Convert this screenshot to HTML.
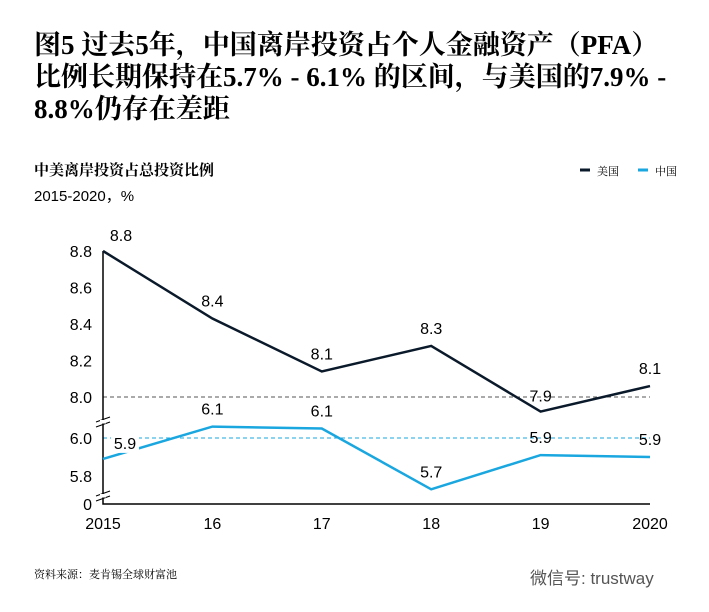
<!DOCTYPE html>
<html><head><meta charset="utf-8"><style>
body{margin:0;width:709px;height:612px;background:#fff;overflow:hidden;font-family:"Liberation Sans","Noto Sans CJK SC",sans-serif}
.t{position:absolute;left:34px;top:29px;font-family:"Liberation Serif","Noto Serif CJK SC",serif;font-weight:bold;font-size:27px;line-height:32px;color:#000;width:675px;white-space:nowrap}
svg{position:absolute;left:0;top:0}
</style></head><body>
<div class="t">图5 过去5年，中国离岸投资占个人金融资产（PFA）<br>比例长期保持在5.7% - 6.1% 的区间，与美国的7.9% -<br>8.8%仍存在差距</div>
<svg width="709" height="612" id="c">
<text x="34" y="175" font-family="Noto Serif CJK SC,serif" font-weight="bold" font-size="15">中美离岸投资占总投资比例</text>
<text x="34" y="201" font-size="15">2015-2020，%</text>
<g>
<line x1="580" y1="170" x2="590" y2="170" stroke="#0b1a2b" stroke-width="3"/>
<text x="597" y="175" font-size="11" font-family="Noto Serif CJK SC,serif">美国</text>
<line x1="638" y1="170" x2="648" y2="170" stroke="#1aa7e0" stroke-width="3"/>
<text x="655" y="175" font-size="11" font-family="Noto Serif CJK SC,serif">中国</text>
</g>
<text x="34" y="578" font-size="11" font-family="Noto Serif CJK SC,serif">资料来源：麦肯锡全球财富池</text>
<text x="530" y="584" font-size="17" fill="#555">微信号: trustway</text>
<g id="g"></g>
</svg>
<script>
const years=["2015","16","17","18","19","2020"];
const usVals=[8.8,8.43,8.14,8.28,7.92,8.06];
const usLabels=["8.8","8.4","8.1","8.3","7.9","8.1"];
const cnVals=[5.89,6.06,6.05,5.73,5.91,5.9];
const cnLabels=["5.9","6.1","6.1","5.7","5.9","5.9"];
const upperTicks=[8.0,8.2,8.4,8.6,8.8];
const lowerTicks=[5.8,6.0];
const NS="http://www.w3.org/2000/svg",g=document.getElementById('g');
const X=i=>103+i*109.4;
const YU=v=>397-(v-8.0)*182.5;
const YL=v=>438-(v-6.0)*190;
function mk(t,a){const e=document.createElementNS(NS,t);for(const k in a)e.setAttribute(k,a[k]);g.appendChild(e);return e;}
function txt(x,y,s,anchor){const e=mk('text',{x:x,y:y,'font-size':16,'text-anchor':anchor||'middle',fill:'#000'});e.textContent=s;return e;}
let e;
e=mk('line',{x1:103,y1:397,x2:650,y2:397,stroke:'#555','stroke-dasharray':'4,3'});


e=mk('line',{x1:103,y1:438,x2:650,y2:438,stroke:'#1aa7e0','stroke-dasharray':'4,3'});


e=mk('path',{d:'M103,251V504H650',fill:'none',stroke:'#000','stroke-width':1.5});


[[420],[494]].forEach(([y])=>{mk('line',{x1:96,y1:y+2,x2:110,y2:y-3,stroke:'#000'});mk('line',{x1:96,y1:y+7,x2:110,y2:y+2,stroke:'#000'});mk('rect',{x:100,y:y,width:6,height:3.5,fill:'#fff'});});
upperTicks.forEach(v=>{e=txt(92,YU(v)+6,v.toFixed(1),'end');});
lowerTicks.forEach(v=>{e=txt(92,YL(v)+6,v.toFixed(1),'end');});
e=txt(92,510,'0','end');
years.forEach((y,i)=>{e=txt(X(i),529,y);});
e=mk('polyline',{points:usVals.map((v,i)=>X(i)+','+YU(v)).join(' '),fill:'none',stroke:'#0b1a2b','stroke-width':2.5});


e=mk('polyline',{points:cnVals.map((v,i)=>X(i)+','+YL(v)).join(' '),fill:'none',stroke:'#1aa7e0','stroke-width':2.5});


usVals.forEach((v,i)=>{const x=i==0?X(i)+18:X(i);const y=(i==0||i==4)?YU(v)-10:YU(v)-12;e=txt(x,y,usLabels[i]);});
cnVals.forEach((v,i)=>{let x=X(i),y=YL(v)-12;if(i==0){x=X(i)+22;y=YL(v)-10;mk('rect',{x:x-14,y:y-14,width:28,height:18,fill:'#fff'});}e=txt(x,y,cnLabels[i]);});
</script>
</body></html>
